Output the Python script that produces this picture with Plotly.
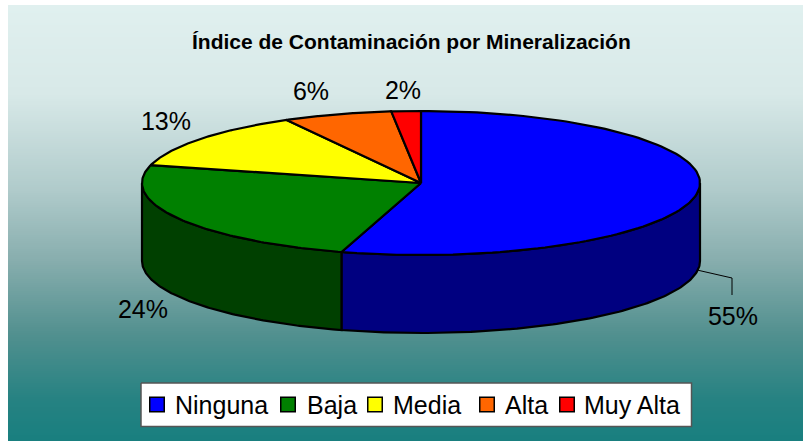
import numpy as np
import plotly.graph_objects as go

# --- data ---
categories = ["Ninguna", "Baja", "Media", "Alta", "Muy Alta"]
slice_values = [54.6, 24.4, 13.0, 6.3, 1.7]
top_colors = ["#0000FF", "#008000", "#FFFF00", "#FF6600", "#FF0000"]
side_colors = ["#000080", "#004000", "#808000", "#803300", "#800000"]
title_text = "Índice de Contaminación por Mineralización"

# --- pie geometry / layout style (pixels) ---
W, H = 803, 442
CX, CY, RX, RY, DEPTH = 421, 183, 279, 72, 78
FONT = "Liberation Sans"
label_xy = {"Ninguna": (733, 319), "Baja": (143, 312), "Media": (166, 124), "Alta": (311, 94), "Muy Alta": (403, 93)}
legend_swatch_x = [157, 288, 375, 487, 567]
legend_text_x = [173, 305, 391, 503, 582]
gradient_stops = [(0, "#E0F0EF"), (0.2, "#D8E9E8"), (0.42, "#B0CBCB"),
                  (0.58, "#88AEAE"), (0.75, "#52908F"), (0.9, "#268282"), (1, "#187F7F")]


def arc(a0, a1, dy=0.0, n=120):
    t = np.radians(np.linspace(a0, a1, n))
    return CX + RX * np.sin(t), CY + dy - RY * np.cos(t)


fig = go.Figure()

# background gradient
rows = np.arange(5, H + 1, 2.0)
fig.add_trace(go.Heatmap(
    x=[8, W], y=rows, z=[[v] for v in (rows[:-1] - 5) / (H - 5)],
    colorscale=gradient_stops, zmin=0, zmax=1, showscale=False, hoverinfo="skip",
))

line = dict(color="black", width=2.2)
edges = np.cumsum([0] + slice_values) / sum(slice_values) * 360

# outer wall, visible from 90 deg to 270 deg
for i, name in enumerate(categories):
    a0, a1 = max(edges[i], 90), min(edges[i + 1], 270)
    if a1 <= a0:
        continue
    x1, y1 = arc(a0, a1)
    x2, y2 = arc(a1, a0, DEPTH)
    fig.add_trace(go.Scatter(
        x=np.r_[x1, x2, x1[0]], y=np.r_[y1, y2, y1[0]], mode="lines", fill="toself",
        fillcolor=side_colors[i], line=line, name=name + " lateral", hoverinfo="skip",
    ))

# top face
for i, name in enumerate(categories):
    x1, y1 = arc(edges[i], edges[i + 1])
    fig.add_trace(go.Scatter(
        x=np.r_[CX, x1, CX], y=np.r_[CY, y1, CY], mode="lines", fill="toself",
        fillcolor=top_colors[i], line=line, name=name, hoverinfo="skip",
    ))

# leader line for the largest slice
fig.add_trace(go.Scatter(x=[697, 732, 732], y=[270, 278, 295], mode="lines",
                         line=dict(color="black", width=1), hoverinfo="skip"))

# data labels
fig.add_trace(go.Scatter(
    x=[label_xy[c][0] for c in categories], y=[label_xy[c][1] for c in categories],
    mode="text", text=[f"{round(v)}%" for v in slice_values], textposition="middle center",
    textfont=dict(family=FONT, size=25, color="black"), hoverinfo="skip",
))

# legend
fig.add_trace(go.Scatter(
    x=[141, 691.5, 691.5, 141, 141], y=[383, 383, 426.5, 426.5, 383], mode="lines", fill="toself",
    fillcolor="white", line=dict(color="#555555", width=1.5), hoverinfo="skip",
))
fig.add_trace(go.Scatter(
    x=legend_swatch_x, y=[404.5] * 5, mode="markers",
    marker=dict(symbol="square", size=14.5, color=top_colors, line=dict(color="black", width=1.5)),
    hoverinfo="skip",
))
for x, c in zip(legend_text_x, categories):
    fig.add_annotation(x=x, y=405, text=c, xref="x", yref="y", xanchor="left", yanchor="middle",
                       showarrow=False, font=dict(family=FONT, size=25, color="black"))

fig.add_annotation(x=411, y=41, text=f"<b>{title_text}</b>", xref="x", yref="y", showarrow=False,
                   xanchor="center", yanchor="middle", font=dict(family=FONT, size=21, color="black"))

fig.update_layout(
    width=W, height=H, margin=dict(l=0, r=0, t=0, b=0), showlegend=False,
    paper_bgcolor="white", plot_bgcolor="white",
    xaxis=dict(range=[0, W], visible=False, fixedrange=True),
    yaxis=dict(range=[H, 0], visible=False, fixedrange=True),
)
fig.write_html("out.html", config={"displayModeBar": False},
               post_script="document.body.style.margin='0';document.documentElement.style.overflow='hidden';")
